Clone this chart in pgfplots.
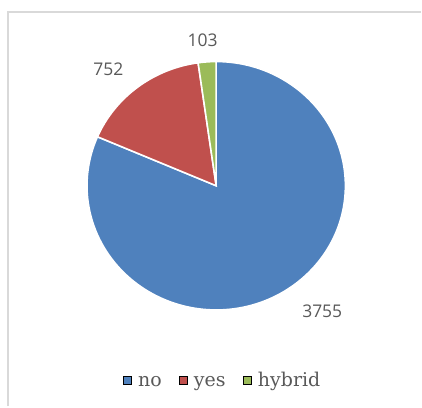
\documentclass[border=0pt]{standalone}
\usepackage{pgfplots}
\usepackage{pgfplotstable}
\pgfplotsset{compat=1.18}
\usepackage{fontspec}
\setmainfont{DejaVu Serif}
\newfontfamily\numfont{Open Sans}
\newfontfamily\legfont{DejaVu Serif}
\definecolor{cno}{HTML}{4F81BD}
\definecolor{cyes}{HTML}{C0504D}
\definecolor{chyb}{HTML}{9BBB59}
\definecolor{txt}{HTML}{595959}
\definecolor{frame}{HTML}{D9D9D9}
\pgfplotstableread{
label value
no 3755
yes 752
hybrid 103
}\piedata
\begin{document}
\begin{tikzpicture}
\pgfplotstablegetelem{0}{value}\of\piedata \let\vno\pgfplotsretval
\pgfplotstablegetelem{1}{value}\of\piedata \let\vyes\pgfplotsretval
\pgfplotstablegetelem{2}{value}\of\piedata \let\vhyb\pgfplotsretval
\pgfmathsetmacro\total{\vno+\vyes+\vhyb}
\pgfmathsetmacro\aA{90}
\pgfmathsetmacro\aB{90-\vno/\total*360}
\pgfmathsetmacro\aC{\aB-\vyes/\total*360}
\pgfmathsetmacro\aD{\aC-\vhyb/\total*360}
\def\cx{216.7}\def\cy{220.8}
\begin{axis}[
  scale only axis, width=422bp, height=407bp,
  xmin=0, xmax=422, ymin=0, ymax=407,
  hide axis, clip=false,
  legend columns=3,
  legend style={draw=none, fill=none, at={(axis cs:222,24)}, anchor=center,
    font=\legfont\fontsize{19bp}{22bp}\selectfont, text=txt,
    /tikz/every even column/.append style={column sep=17bp},
    nodes={inner xsep=0bp, inner ysep=0bp, text height=14bp, text depth=4.5bp}},
  legend image code/.code={\fill[#1] (0bp,-2bp) rectangle (8bp,6bp); \path (15bp,0bp);},
]
\fill[white] (axis cs:0,0) rectangle (axis cs:422,407);
\draw[frame, line width=2bp] (axis cs:8,0) -- (axis cs:8,395) -- (axis cs:422,395);
\addlegendimage{fill=cno}\addlegendentry{no}
\addlegendimage{fill=cyes}\addlegendentry{yes}
\addlegendimage{fill=chyb}\addlegendentry{hybrid}
\fill[cno, draw=white, line width=1.6bp] (axis cs:\cx,\cy) -- ++(\aA:129.5bp and 124.5bp)
  arc[start angle=\aA, end angle=\aB, x radius=129.5bp, y radius=124.5bp] -- cycle;
\fill[cyes, draw=white, line width=1.6bp] (axis cs:\cx,\cy) -- ++(\aB:129.5bp and 124.5bp)
  arc[start angle=\aB, end angle=\aC, x radius=129.5bp, y radius=124.5bp] -- cycle;
\fill[chyb, draw=white, line width=1.6bp] (axis cs:\cx,\cy) -- ++(\aC:129.5bp and 124.5bp)
  arc[start angle=\aC, end angle=\aD, x radius=129.5bp, y radius=124.5bp] -- cycle;
\node[text=txt, font=\numfont\fontsize{17.5bp}{20bp}\selectfont] at (axis cs:203,366.5) {\vhyb};
\node[text=txt, font=\numfont\fontsize{17.5bp}{20bp}\selectfont] at (axis cs:108.7,338) {\vyes};
\node[text=txt, font=\numfont\fontsize{17.5bp}{20bp}\selectfont] at (axis cs:323,95.3) {\vno};
\end{axis}
\end{tikzpicture}
\end{document}
